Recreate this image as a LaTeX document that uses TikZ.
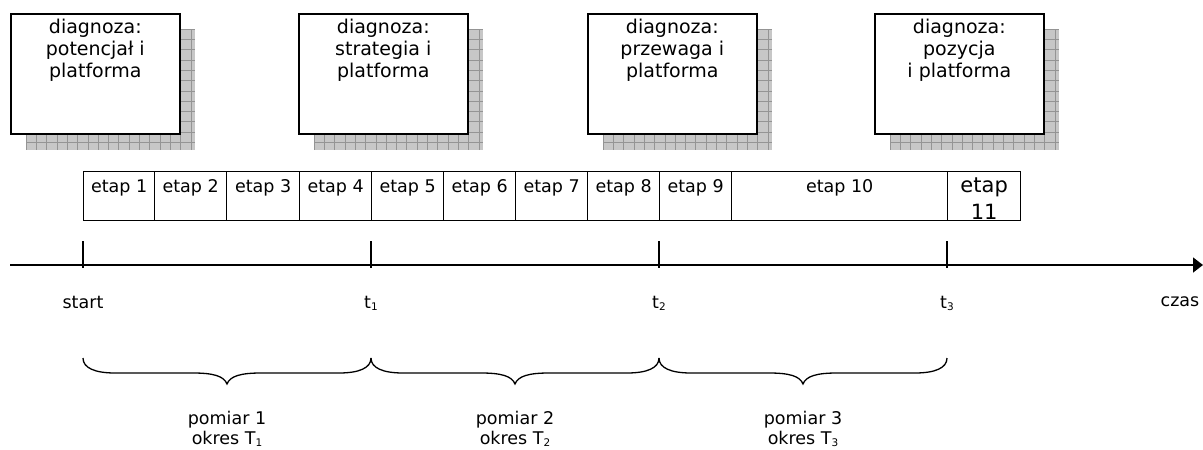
\documentclass[tikz,border=0pt]{standalone}
\usepackage{fontspec}
\setmainfont{DejaVu Sans}
\usetikzlibrary{arrows.meta,calc}
% small lowered index used in the time labels
\newcommand{\lowidx}[1]{\raisebox{-2pt}{\fontsize{10.5}{10.5}\selectfont #1}}
\begin{document}
\begin{tikzpicture}[x=1pt,y=-1pt,
  diagbox/.style={draw, line width=1.6pt, fill=white, minimum width=169pt,
    minimum height=120pt, anchor=north west, inner sep=0pt},
  diagtext/.style={anchor=north, inner sep=0pt, align=center,
    font=\fontsize{19}{21.7}\selectfont},
  shadowfill/.style={fill=black!22},
  shadowgrid/.style={draw=black!42, line width=0.6pt},
  cell/.style={draw, line width=1.3pt, minimum height=49pt, anchor=north west,
    inner sep=0pt},
  celltext/.style={anchor=north, inner sep=0pt, font=\fontsize{17.5}{21}\selectfont},
  axisline/.style={line width=1.5pt},
  tickline/.style={line width=1.4pt},
  lbl/.style={anchor=north, inner sep=0pt, align=center,
    font=\fontsize{17.5}{20}\selectfont},
  bracepath/.style={line width=1.3pt}
]
\useasboundingbox (0,0) rectangle (1203,450);

% --- diagnosis boxes with grid-patterned drop shadows ---
\foreach \x in {10,298,587,874}{
  \fill[shadowfill] (\x+16,29) rectangle (\x+185,150);
  \begin{scope}
    \clip (\x+16,29) rectangle (\x+185,150);
    \foreach \i in {0,...,17}{
      \draw[shadowgrid] (\x+16+\i*10.3,29) -- (\x+16+\i*10.3,150);}
    \foreach \j in {0,...,12}{
      \draw[shadowgrid] (\x+16,29+\j*10.3) -- (\x+185,29+\j*10.3);}
  \end{scope}
}
\node[diagbox] (d1) at (10,13) {};
\node[diagbox] (d2) at (298,13) {};
\node[diagbox] (d3) at (587,13) {};
\node[diagbox] (d4) at (874,13) {};
\node[diagtext] (d1t) at ($(d1.north)+(0,6)$) {diagnoza:\\potencjał i\\platforma};
\node[diagtext] (d2t) at ($(d2.north)+(0,6)$) {diagnoza:\\strategia i\\platforma};
\node[diagtext] (d3t) at ($(d3.north)+(0,6)$) {diagnoza:\\przewaga i\\platforma};
\node[diagtext] (d4t) at ($(d4.north)+(0,6)$) {diagnoza:\\pozycja\\i platforma};

% --- row of stages ---
\node[cell, minimum width=71pt] (e1) at (83,171) {};
\node[cell, minimum width=72pt] (e2) at (154,171) {};
\node[cell, minimum width=73pt] (e3) at (226,171) {};
\node[cell, minimum width=72pt] (e4) at (299,171) {};
\node[cell, minimum width=72pt] (e5) at (371,171) {};
\node[cell, minimum width=72pt] (e6) at (443,171) {};
\node[cell, minimum width=72pt] (e7) at (515,171) {};
\node[cell, minimum width=72pt] (e8) at (587,171) {};
\node[cell, minimum width=72pt] (e9) at (659,171) {};
\node[cell, minimum width=216pt] (e10) at (731,171) {};
\node[cell, minimum width=73pt] (e11) at (947,171) {};
\foreach \n in {1,...,10}{
  \node[celltext] (e\n t) at ($(e\n.north)+(0,8.5)$) {etap \n};
}
\begin{scope}
  \clip (e11.north west) rectangle (e11.south east);
  \node[celltext, align=center, font=\fontsize{21}{27}\selectfont]
    (e11t) at ($(e11.north)+(0,6.5)$) {etap\\11};
\end{scope}
\node[cell, minimum width=73pt] at (947,171) {};

% --- time axis with ticks ---
\coordinate (ax0) at (10,265);
\coordinate (ax1) at (1203,265);
\draw[axisline, -{Triangle[length=10pt,width=15pt]}] (ax0) -- (ax1);
\foreach \k/\x in {0/83,1/371,2/659,3/947}{
  \coordinate (tk\k a) at (\x,241);
  \coordinate (tk\k b) at (\x,268);
  \draw[tickline] (tk\k a) -- (tk\k b);
}
\node[lbl] (lstart) at (83,296) {start};
\node[lbl] (lt1) at (371,296) {t\lowidx{1}};
\node[lbl] (lt2) at (659,296) {t\lowidx{2}};
\node[lbl] (lt3) at (947,296) {t\lowidx{3}};
\node[lbl] (lczas) at (1180,296) {czas};

% --- braces under the measurement periods ---
\foreach \k/\a/\b in {1/83/371,2/371/659,3/659/947}{
  \coordinate (br\k a) at (\a,358);
  \coordinate (br\k b) at (\b,358);
  \coordinate (br\k m) at ({(\a+\b)/2},384);
  \draw[bracepath] (br\k a) .. controls (\a,368) and (\a+12,373) .. (\a+32,373)
    -- ({(\a+\b)/2-34},373)
    .. controls ({(\a+\b)/2-14},373) and ({(\a+\b)/2-3},376) .. (br\k m)
    .. controls ({(\a+\b)/2+3},376) and ({(\a+\b)/2+14},373) .. ({(\a+\b)/2+34},373)
    -- (\b-32,373)
    .. controls (\b-12,373) and (\b,368) .. (br\k b);
}
\node[lbl] (p1) at (227,411) {pomiar 1\\okres T\lowidx{1}};
\node[lbl] (p2) at (515,411) {pomiar 2\\okres T\lowidx{2}};
\node[lbl] (p3) at (803,411) {pomiar 3\\okres T\lowidx{3}};
\end{tikzpicture}
\end{document}
